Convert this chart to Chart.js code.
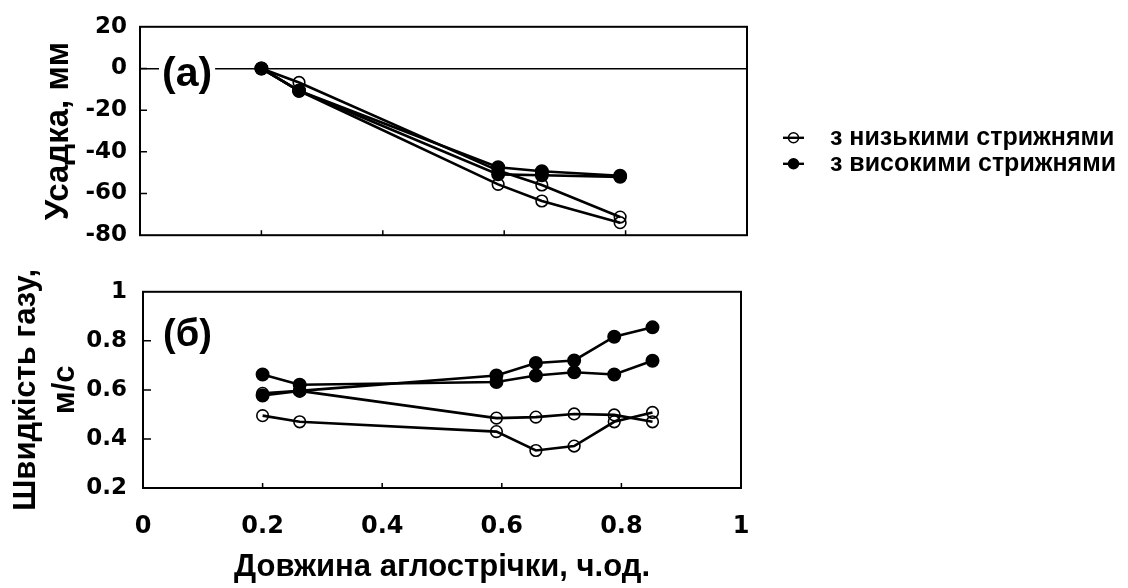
<!DOCTYPE html>
<html>
<head>
<meta charset="utf-8">
<script src="https://cdn.jsdelivr.net/npm/chart.js@4.4.1/dist/chart.umd.min.js"></script>
<style>
  html, body { margin: 0; padding: 0; background: #fff; }
  #wrap { position: relative; width: 1128px; height: 588px; }
  #chartA { position: absolute; left: 0; top: 0; }
  #chartB { position: absolute; left: 0; top: 262px; }
</style>
</head>
<body>
<div id="wrap">
  <canvas id="chartA" width="1128" height="262"></canvas>
  <canvas id="chartB" width="1128" height="326"></canvas>
</div>
<script>
const seriesNames = ['з низькими стрижнями', 'з високими стрижнями'];

// (а) shrinkage, mm
const shrinkX = [0.2, 0.262, 0.59, 0.662, 0.791];
const shrinkLow1 = [0, -6.7, -49, -55.9, -71.3];
const shrinkLow2 = [0, -10.7, -55.6, -63.6, -74];
const shrinkHigh1 = [0, -10.7, -47.4, -49.3, -51.5];
const shrinkHigh2 = [0, -10.7, -50.8, -51.2, -52];

// (б) gas velocity, m/s
const gasX = [0.2, 0.262, 0.591, 0.657, 0.721, 0.788, 0.852];
const gasLow1 = [0.586, 0.596, 0.485, 0.489, 0.502, 0.498, 0.47];
const gasLow2 = [0.495, 0.47, 0.43, 0.353, 0.371, 0.47, 0.508];
const gasHigh1 = [0.663, 0.621, 0.632, 0.659, 0.672, 0.663, 0.719];
const gasHigh2 = [0.577, 0.596, 0.659, 0.71, 0.72, 0.817, 0.855];

const xTickLabels = ['0', '0.2', '0.4', '0.6', '0.8', '1'];

const tickFont = size => ({ family: 'DejaVu Sans', weight: 'bold', size: size });
const textFont = size => ({ family: 'Liberation Sans', weight: 'bold', size: size, lineHeight: 1.25 });

function toPoints(xs, ys) {
    return xs.map((x, i) => ({ x: x, y: ys[i] }));
}

function series(xs, ys, filled) {
    return {
        data: toPoints(xs, ys),
        showLine: true,
        borderColor: '#000',
        borderWidth: 2.6,
        pointRadius: filled ? 6.2 : 5.8,
        pointHoverRadius: filled ? 6.2 : 5.8,
        pointBorderWidth: 1.6,
        pointBorderColor: '#000',
        pointBackgroundColor: filled ? '#000' : 'rgba(255,255,255,0)',
        tension: 0,
    };
}

// frame, inward ticks, panel letter, legend
const panelDecor = {
    id: 'panelDecor',
    afterDraw(chart, args, opts) {
        const ctx = chart.ctx;
        const a = chart.chartArea;
        const xs = chart.scales.x, ys = chart.scales.y;
        ctx.save();
        ctx.strokeStyle = '#000';
        ctx.lineWidth = 2;
        ctx.strokeRect(a.left, a.top, a.right - a.left, a.bottom - a.top);

        ctx.lineWidth = 1.5;
        ctx.beginPath();
        ys.ticks.forEach(t => {
            const py = ys.getPixelForValue(t.value);
            if (Math.abs(py - a.top) < 2 || Math.abs(py - a.bottom) < 2) return;
            ctx.moveTo(a.left, py);
            ctx.lineTo(a.left + opts.yTick, py);
        });
        opts.xTicks.forEach(v => {
            const px = xs.getPixelForValue(v);
            ctx.moveTo(px, a.bottom);
            ctx.lineTo(px, a.bottom - opts.xTick);
        });
        ctx.stroke();

        // panel letter on white
        ctx.font = 'bold ' + opts.letterSize + 'px "Liberation Sans"';
        ctx.textBaseline = 'middle';
        ctx.textAlign = 'left';
        const w = ctx.measureText(opts.letter).width;
        const lx = a.left + opts.letterDx, ly = a.top + opts.letterDy;
        ctx.fillStyle = '#fff';
        ctx.fillRect(lx - 3, ly - opts.letterSize * 0.6, w + 6, opts.letterSize * 1.2);
        ctx.fillStyle = '#000';
        ctx.fillText(opts.letter, lx, ly);

        if (opts.legend) {
            ctx.font = 'bold 25px "Liberation Sans"';
            seriesNames.forEach((name, i) => {
                const y = a.top + 111 + i * 26;
                const x0 = a.right + 36;
                ctx.lineWidth = 2.4;
                ctx.beginPath();
                ctx.moveTo(x0, y);
                ctx.lineTo(x0 + 21, y);
                ctx.stroke();
                ctx.beginPath();
                ctx.arc(x0 + 10.5, y, 5, 0, Math.PI * 2);
                ctx.lineWidth = 1.5;
                if (i === 1) { ctx.fill(); }
                ctx.stroke();
                ctx.fillText(name, a.right + 83, y);
            });
        }
        ctx.restore();
    }
};

const chartA = new Chart(document.getElementById('chartA'), {
    type: 'scatter',
    data: {
        datasets: [
            series(shrinkX, shrinkHigh1, true),
            series(shrinkX, shrinkHigh2, true),
            series(shrinkX, shrinkLow1, false),
            series(shrinkX, shrinkLow2, false),
        ],
    },
    options: {
        responsive: false,
        animation: false,
        events: [],
        layout: { padding: { left: 0, top: 21, right: 381, bottom: 0 } },
        scales: {
            x: {
                type: 'linear', min: 0, max: 1,
                ticks: { display: false },
                grid: { display: false },
                border: { display: false },
                afterFit: s => { s.height = 14; },
            },
            y: {
                type: 'linear', min: -80, max: 20,
                ticks: { stepSize: 20, color: '#000', font: tickFont(23), padding: 13 },
                grid: {
                    drawTicks: false,
                    color: c => (c.tick && c.tick.value === 0 ? '#000' : 'rgba(0,0,0,0)'),
                    lineWidth: 1.5,
                },
                border: { display: false },
                title: {
                    display: true, text: 'Усадка, мм', color: '#000',
                    font: textFont(33), padding: { top: 38, bottom: 0 },
                },
                afterFit: s => { s.width = 140; },
            },
        },
        plugins: {
            legend: { display: false },
            tooltip: { enabled: false },
            panelDecor: {
                letter: '(а)', letterSize: 41, letterDx: 22, letterDy: 48,
                yTick: 7, xTick: 5, xTicks: [0.2, 0.4, 0.6, 0.8], legend: true,
            },
        },
    },
    plugins: [panelDecor],
});

const chartB = new Chart(document.getElementById('chartB'), {
    type: 'scatter',
    data: {
        datasets: [
            series(gasX, gasHigh1, true),
            series(gasX, gasHigh2, true),
            series(gasX, gasLow1, false),
            series(gasX, gasLow2, false),
        ],
    },
    options: {
        responsive: false,
        animation: false,
        events: [],
        layout: { padding: { left: 0, top: 15, right: 387, bottom: 0 } },
        scales: {
            x: {
                type: 'linear', min: 0, max: 1,
                ticks: {
                    stepSize: 0.2, autoSkip: false, maxRotation: 0, color: '#000',
                    font: tickFont(24), padding: 24,
                    callback: (v, i) => xTickLabels[i],
                },
                grid: { display: false, drawTicks: false },
                border: { display: false },
                title: {
                    display: true, text: 'Довжина аглострічки, ч.од.', color: '#000',
                    font: textFont(31), padding: { top: 0, bottom: 1 },
                },
                afterFit: s => { s.height = 100; },
            },
            y: {
                type: 'linear', min: 0.2, max: 1,
                ticks: {
                    stepSize: 0.2, color: '#000', font: tickFont(23), padding: 16,
                    callback: v => String(+v.toFixed(1)),
                },
                grid: { display: false, drawTicks: false },
                border: { display: false },
                title: {
                    display: true, text: ['Швидкість газу,', 'м/с'], color: '#000',
                    font: textFont(31), padding: { top: 7, bottom: 0 },
                },
                afterFit: s => { s.width = 143; },
            },
        },
        plugins: {
            legend: { display: false },
            tooltip: { enabled: false },
            panelDecor: {
                letter: '(б)', letterSize: 38, letterDx: 20, letterDy: 44,
                yTick: 8, xTick: 5, xTicks: [0.2, 0.4, 0.6, 0.8], legend: false,
            },
        },
    },
    plugins: [panelDecor],
});
</script>
</body>
</html>
